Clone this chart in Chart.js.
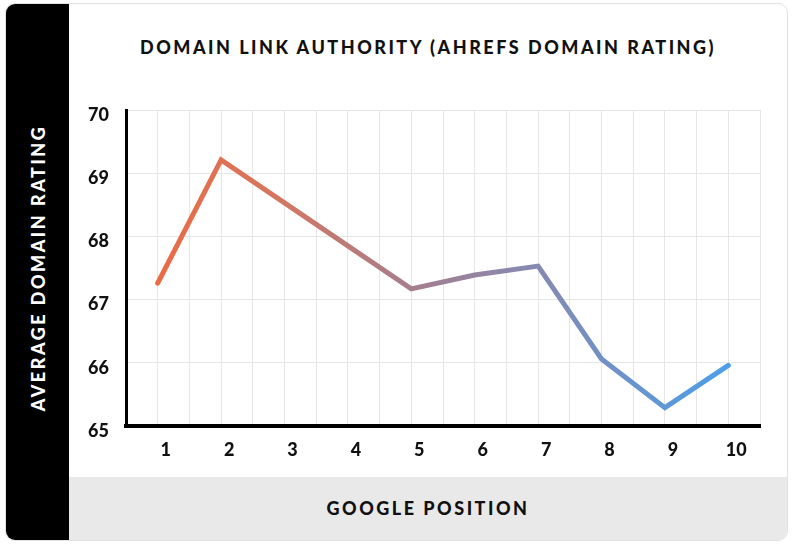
<!DOCTYPE html>
<html>
<head>
<meta charset="utf-8">
<script src="https://cdn.jsdelivr.net/npm/chart.js@4"></script>
<style>
  body { margin: 0; background: #fff; width: 800px; height: 549px; position: relative; overflow: hidden; font-family: Lato, "Open Sans", sans-serif; }
  .card { position: absolute; left: 5px; top: 3px; width: 781px; height: 536px; border: 1px solid #e2e2e2; border-radius: 10px; overflow: hidden; background: #fff; }
  .side { position: absolute; left: 0; top: 0; width: 63px; height: 100%; background: #000; }
  .band { position: absolute; left: 63px; right: 0; top: 473px; bottom: 0; background: #e9e9e9; }
  .txt { position: absolute; font-weight: 900; font-size: 18px; letter-spacing: 2.5px; color: #111; white-space: nowrap; }
  #title { left: 0; width: 856px; top: 36px; text-align: center; }
  #ytitle { left: 38px; top: 268px; color: #fff; transform: translate(-50%, -50%) rotate(-90deg); }
  #xtitle { left: 428px; top: 508px; transform: translate(-50%, -50%); }
  canvas { position: absolute; left: 0; top: 0; }
</style>
</head>
<body>
<div class="card">
  <div class="side"></div>
  <div class="band"></div>
</div>
<div class="txt" id="title">DOMAIN LINK AUTHORITY (AHREFS DOMAIN RATING)</div>
<div class="txt" id="ytitle">AVERAGE DOMAIN RATING</div>
<div class="txt" id="xtitle">GOOGLE POSITION</div>
<canvas id="chart" width="800" height="549"></canvas>

<script>
// google position on x, average ahrefs DR on y
const positions = [1, 2, 3, 4, 5, 6, 7, 8, 9, 10];
const ratings = [67.26, 69.21, 68.53, 67.85, 67.17, 67.39, 67.53, 66.06, 65.29, 65.96];
const yMin = 65;
const yMax = 70;

function lineGradient(ctx) {
  const chart = ctx.chart;
  if (!chart.chartArea) return '#e8704d';
  const x = chart.scales.x;
  const g = chart.ctx.createLinearGradient(x.getPixelForValue(positions[0]), 0, x.getPixelForValue(positions[positions.length - 1]), 0);
  g.addColorStop(0, '#ea6b45');
  g.addColorStop(0.2, '#d7765f');
  g.addColorStop(0.45, '#a57e8e');
  g.addColorStop(0.7, '#7f8cb8');
  g.addColorStop(1, '#4b9fea');
  return g;
}

const tickFont = { family: 'Lato', weight: '900', size: 18 };

new Chart(document.getElementById('chart'), {
  type: 'line',
  data: {
    datasets: [{
      data: positions.map((p, i) => ({ x: p, y: ratings[i] })),
      borderColor: lineGradient,
      borderWidth: 5,
      borderCapStyle: 'round',
      borderJoinStyle: 'miter',
      pointRadius: 0,
      tension: 0,
      fill: false
    }]
  },
  options: {
    responsive: false,
    animation: false,
    layout: { padding: { left: 69, top: 110, right: 40, bottom: 73 } },
    plugins: { legend: { display: false }, tooltip: { enabled: false } },
    scales: {
      x: {
        type: 'linear',
        min: 0.5,
        max: 10.5,
        afterFit: (s) => { s.height = 50; },
        ticks: {
          stepSize: 0.5,
          autoSkip: false,
          maxRotation: 0,
          padding: 13,
          labelOffset: 8,
          color: '#111',
          font: tickFont,
          callback: (v) => Number.isInteger(v) ? String(v) : ''
        },
        grid: { color: '#e6e6e6', lineWidth: 1, drawTicks: false },
        border: { color: '#000', width: 4 }
      },
      y: {
        min: yMin,
        max: yMax,
        afterFit: (s) => { s.width = 57; },
        ticks: {
          stepSize: 1,
          padding: 17,
          labelOffset: 5,
          color: '#111',
          font: tickFont
        },
        grid: { color: '#e6e6e6', lineWidth: 1, drawTicks: false },
        border: { color: '#000', width: 3 }
      }
    }
  }
});
</script>
</body>
</html>
